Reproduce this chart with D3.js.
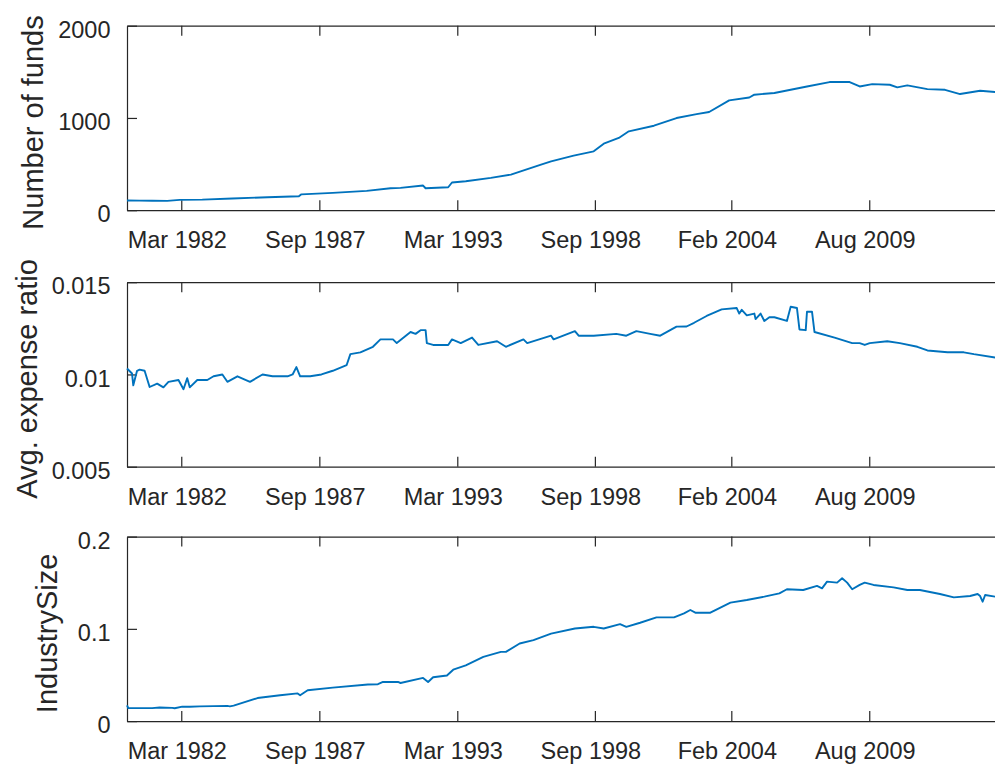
<!DOCTYPE html>
<html>
<head>
<meta charset="utf-8">
<script src="https://cdn.jsdelivr.net/npm/d3@7.9.0/dist/d3.min.js"></script>
<style>
  body { margin: 0; background: #fff; }
  svg { display: block; font-family: "Liberation Sans", Arial, sans-serif; }
</style>
</head>
<body>
<svg width="995" height="766"></svg>
<script>
// x tick marks shared by all three panels
const tickDates = ["1982-03-01", "1987-09-01", "1993-03-01", "1998-08-25", "2004-02-01", "2009-08-01"];
const tickLabels = ["Mar 1982", "Sep 1987", "Mar 1993", "Sep 1998", "Feb 2004", "Aug 2009"];

// Number of funds (dates as decimal years)
const fundYears = [1980.0, 1980.5, 1981.0, 1981.6, 1982.1, 1983.0, 1984.2, 1985.6, 1986.85, 1986.95,
  1988.2, 1989.55, 1990.5, 1990.9, 1991.8, 1991.9, 1992.8, 1992.95, 1993.5, 1994.5,
  1995.3, 1995.9, 1996.5, 1996.9, 1997.8, 1998.6, 1999.0, 1999.6, 2000.0, 2001.0,
  2001.9, 2002.7, 2003.2, 2004.0, 2004.8, 2005.0, 2005.8, 2007.1, 2008.0, 2008.8,
  2009.2, 2009.7, 2010.4, 2010.7, 2011.1, 2011.9, 2012.6, 2013.2, 2014.0, 2014.6];
const fundCounts = [105, 104, 103, 101, 112, 115, 127, 141, 151, 172,
  188, 210, 238, 242, 267, 238, 249, 300, 314, 350,
  386, 440, 494, 530, 592, 638, 721, 783, 855, 916,
  999, 1042, 1064, 1190, 1222, 1252, 1270, 1341, 1389, 1389,
  1341, 1367, 1360, 1331, 1353, 1313, 1305, 1259, 1295, 1281];

// Average expense ratio
const expYears = [1980.0, 1980.2, 1980.25, 1980.4, 1980.5, 1980.7, 1980.9, 1981.2, 1981.45, 1981.65,
  1982.05, 1982.25, 1982.4, 1982.5, 1982.8, 1983.2, 1983.45, 1983.8, 1984.0, 1984.4,
  1984.9, 1985.4, 1985.8, 1986.4, 1986.6, 1986.75, 1986.9, 1987.3, 1987.75, 1988.2,
  1988.75, 1988.9, 1989.3, 1989.8, 1990.1, 1990.6, 1990.75, 1991.3, 1991.5, 1991.7,
  1991.9, 1991.95, 1992.2, 1992.8, 1992.95, 1993.3, 1993.75, 1994.0, 1994.75, 1995.1,
  1995.8, 1995.95, 1996.9, 1997.0, 1997.85, 1998.0, 1998.6, 1999.5, 1999.9, 2000.3,
  2000.85, 2001.25, 2001.9, 2002.3, 2002.6, 2003.1, 2003.7, 2004.3, 2004.4, 2004.5,
  2004.7, 2005.0, 2005.05, 2005.25, 2005.4, 2005.6, 2005.8, 2006.3, 2006.45, 2006.7,
  2006.8, 2007.05, 2007.1, 2007.3, 2007.4, 2008.2, 2008.9, 2009.2, 2009.4, 2009.6,
  2010.3, 2010.8, 2011.5, 2011.9, 2012.7, 2013.35, 2013.75, 2014.6];
const expRatio = [0.01032, 0.01005, 0.00941, 0.0102, 0.01026, 0.0102, 0.00932, 0.0095, 0.0093, 0.0096,
  0.0097, 0.0092, 0.0098, 0.0093, 0.0097, 0.0097, 0.0099, 0.0100, 0.0096, 0.0099,
  0.0096, 0.0100, 0.0099, 0.0099, 0.0100, 0.0104, 0.0099, 0.0099, 0.0100, 0.0102,
  0.0105, 0.0111, 0.0112, 0.0115, 0.0119, 0.0119, 0.0117, 0.0123, 0.0122, 0.0124,
  0.0124, 0.0117, 0.0116, 0.0116, 0.0119, 0.0117, 0.0120, 0.0116, 0.0118, 0.0115,
  0.0119, 0.0117, 0.0121, 0.0119, 0.01235, 0.0121, 0.0121, 0.0122, 0.0121, 0.01235,
  0.0122, 0.0121, 0.01259, 0.0126, 0.0128, 0.01317, 0.01353, 0.0136, 0.0133, 0.0135,
  0.0132, 0.0133, 0.0130, 0.0133, 0.0129, 0.0131, 0.0131, 0.0129, 0.01367, 0.0136,
  0.01244, 0.0124, 0.0134, 0.0134, 0.0123, 0.0120, 0.0117, 0.0117, 0.0116, 0.0117,
  0.0118, 0.0117, 0.0115, 0.0113, 0.0112, 0.0112, 0.0111, 0.01092];

// Industry size
const sizeYears = [1980.0, 1980.05, 1981.0, 1981.3, 1981.8, 1981.9, 1982.2, 1982.5, 1982.9, 1983.45,
  1984.0, 1984.1, 1984.25, 1985.2, 1986.1, 1986.8, 1986.9, 1987.2, 1988.2, 1989.6,
  1990.0, 1990.2, 1990.8, 1990.9, 1991.8, 1992.0, 1992.2, 1992.75, 1993.0, 1993.5,
  1994.2, 1994.9, 1995.1, 1995.65, 1996.2, 1996.9, 1997.85, 1998.6, 1999.0, 1999.65,
  1999.9, 2000.45, 2001.1, 2001.8, 2002.2, 2002.45, 2002.65, 2003.25, 2004.05, 2004.7,
  2005.4, 2006.0, 2006.3, 2006.95, 2007.5, 2007.7, 2007.9, 2008.3, 2008.5, 2008.7,
  2008.9, 2009.2, 2009.4, 2009.75, 2010.55, 2011.1, 2011.6, 2012.4, 2012.95, 2013.6,
  2013.9, 2014.0, 2014.1, 2014.2, 2014.6];
const industrySize = [0.0171, 0.0142, 0.0141, 0.0147, 0.0143, 0.0139, 0.0157, 0.0155, 0.0160, 0.0162,
  0.0165, 0.0160, 0.0168, 0.0250, 0.0280, 0.0300, 0.0280, 0.0334, 0.0363, 0.0396,
  0.0400, 0.0424, 0.0424, 0.0413, 0.0468, 0.0424, 0.0476, 0.0495, 0.0557, 0.0605,
  0.0696, 0.0750, 0.0750, 0.0841, 0.0877, 0.0949, 0.1004, 0.1022, 0.1004, 0.1051,
  0.1022, 0.1066, 0.1124, 0.1124, 0.1167, 0.1204, 0.1175, 0.1175, 0.1284, 0.1313,
  0.1349, 0.1385, 0.1429, 0.1421, 0.1465, 0.1439, 0.1512, 0.1501, 0.1548, 0.1501,
  0.1429, 0.1476, 0.1501, 0.1476, 0.1450, 0.1421, 0.1421, 0.1378, 0.1341, 0.1356,
  0.1378, 0.1356, 0.1294, 0.1367, 0.1349];

// y axes
const yTicks1 = [0, 1000, 2000], yTickLabels1 = ["0", "1000", "2000"];
const yTicks2 = [0.005, 0.01, 0.015], yTickLabels2 = ["0.005", "0.01", "0.015"];
const yTicks3 = [0, 0.1, 0.2], yTickLabels3 = ["0", "0.1", "0.2"];

const ink = "#262626";
const lineColor = "#0072BD";

// decimal year -> Date
function toDate(y) {
  const yr = Math.floor(y);
  const start = new Date(yr, 0, 1), end = new Date(yr + 1, 0, 1);
  return new Date(+start + (y - yr) * (end - start));
}

const parse = d3.timeParse("%Y-%m-%d");
const x = d3.scaleTime()
  .domain([new Date(1980, 0, 1), new Date(2015, 0, 1)])
  .range([127, 1005.2]);

const panels = [
  { years: fundYears, values: fundCounts, ticks: yTicks1, labels: yTickLabels1, title: "Number of funds", top: 25.7, labelX: 42.5 },
  { years: expYears, values: expRatio, ticks: yTicks2, labels: yTickLabels2, title: "Avg. expense ratio", top: 282.2, labelX: 37 },
  { years: sizeYears, values: industrySize, ticks: yTicks3, labels: yTickLabels3, title: "IndustrySize", top: 536.6, labelX: 56.5 }
];
const h = 184.5;

const svg = d3.select("svg");

panels.forEach((p, idx) => {
  const y = d3.scaleLinear()
    .domain([p.ticks[0], p.ticks[p.ticks.length - 1]])
    .range([p.top + h, p.top]);

  const g = svg.append("g");

  // Bottom axis with labels
  const bottom = g.append("g")
    .attr("transform", `translate(0,${p.top + h})`)
    .call(d3.axisBottom(x)
      .tickValues(tickDates.map(parse))
      .tickSize(-10)
      .tickSizeOuter(0)
      .tickPadding(0)
      .tickFormat((d, i) => tickLabels[i]));
  bottom.selectAll("text").attr("y", 38).attr("dy", null).attr("dx", -4.5);

  // Top axis (ticks only)
  g.append("g")
    .attr("transform", `translate(0,${p.top})`)
    .call(d3.axisTop(x)
      .tickValues(tickDates.map(parse))
      .tickSize(-10)
      .tickSizeOuter(0)
      .tickFormat(""));

  // Left axis
  g.append("g")
    .attr("transform", "translate(127,0)")
    .call(d3.axisLeft(y)
      .tickValues(p.ticks)
      .tickSize(-10)
      .tickSizeOuter(0)
      .tickPadding(16.5)
      .tickFormat((d, i) => p.labels[i]))
    .selectAll("text").attr("dy", "0.5em");

  g.selectAll(".domain, .tick line")
    .attr("stroke", ink)
    .attr("stroke-width", 1.2);
  g.selectAll(".tick text")
    .attr("fill", ink)
    .style("font-size", "23.5px")
    .style("font-family", "'Liberation Sans', Arial, sans-serif");

  // Data line
  const data = p.years.map((yr, i) => ({ date: toDate(yr), value: p.values[i] }));
  g.append("path")
    .datum(data)
    .attr("fill", "none")
    .attr("stroke", lineColor)
    .attr("stroke-width", 1.9)
    .attr("stroke-linejoin", "round")
    .attr("d", d3.line().x((d) => x(d.date)).y((d) => y(d.value)));

  // Y label
  g.append("text")
    .attr("transform", `translate(${p.labelX},${p.top + h / 2 + 4.5}) rotate(-90)`)
    .attr("text-anchor", "middle")
    .attr("fill", ink)
    .style("font-size", "29px")
    .text(p.title);
});
</script>
</body>
</html>
